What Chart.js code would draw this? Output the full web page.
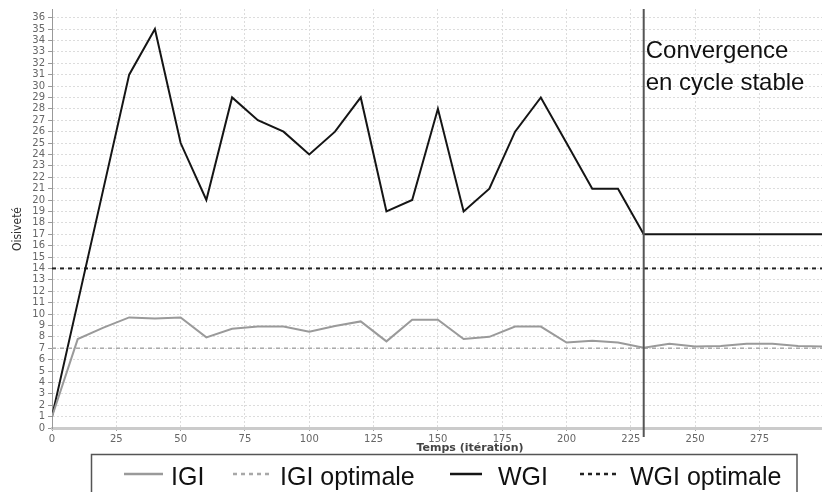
<!DOCTYPE html>
<html lang="fr">
<head>
<meta charset="utf-8">
<title>Oisiveté</title>
<script src="https://cdn.jsdelivr.net/npm/chart.js@4.4.1/dist/chart.umd.min.js"></script>
<style>
  html,body{margin:0;padding:0;background:#fff;}
</style>
</head>
<body>
<canvas id="chart" width="822" height="492"></canvas>
<script>
// Itérations (une mesure toutes les 10)
const iterations = [0,10,20,30,40,50,60,70,80,90,100,110,120,130,140,150,160,170,180,190,200,210,220,230,240,250,260,270,280,290,300];
const igi = [1,7.8,8.8,9.7,9.6,9.7,7.95,8.7,8.9,8.9,8.45,8.95,9.35,7.6,9.5,9.5,7.8,8.0,8.9,8.9,7.5,7.65,7.5,7.05,7.4,7.15,7.2,7.4,7.4,7.2,7.15];
const wgi = [1,11,21,31,35,25,20,29,27,26,24,26,29,19,20,28,19,21,26,29,25,21,21,17,17,17,17,17,17,17,17];

// Valeurs optimales (droites horizontales)
const optimalX    = [0, 300];
const igiOptimale = [7, 7];
const wgiOptimale = [14, 14];

const convergenceIter = 230;
const convergenceText = ['Convergence', 'en cycle stable'];
const xTitle = 'Temps (itération)';
const yTitle = 'Oisiveté';

const toPoints = (xs, ys) => xs.map((x,i)=>({x, y: ys[i]}));

const datasets = [
  { label:'IGI', data: toPoints(iterations, igi), borderColor:'#9a9a9a', borderWidth:2, borderDash:[] },
  { label:'IGI optimale', data: toPoints(optimalX, igiOptimale), borderColor:'#a8a8a8', borderWidth:1.5, borderDash:[4,4] },
  { label:'WGI', data: toPoints(iterations, wgi), borderColor:'#151515', borderWidth:2, borderDash:[] },
  { label:'WGI optimale', data: toPoints(optimalX, wgiOptimale), borderColor:'#222', borderWidth:2, borderDash:[4,4] }
].map(d=>({...d, pointRadius:0, tension:0, fill:false, backgroundColor:d.borderColor}));

// Ligne de convergence, textes et légende encadrée
const decor = {
  id:'decor',
  afterDraw(chart){
    const {ctx, chartArea:a, scales:{x}} = chart;
    const cx = x.getPixelForValue(convergenceIter);

    ctx.save();
    ctx.strokeStyle='#555';
    ctx.lineWidth=2;
    ctx.beginPath();
    ctx.moveTo(cx, a.top);
    ctx.lineTo(cx, a.bottom+9);
    ctx.stroke();

    ctx.fillStyle='#111';
    ctx.font='24px "Liberation Sans", Arial, sans-serif';
    ctx.textAlign='left';
    ctx.textBaseline='alphabetic';
    ctx.fillText(convergenceText[0], cx+2, 58);
    ctx.fillText(convergenceText[1], cx+2, 90);

    // titres des axes
    ctx.fillStyle='#444';
    ctx.font='bold 11px "DejaVu Sans", sans-serif';
    ctx.textAlign='center';
    ctx.textBaseline='middle';
    ctx.fillText(xTitle, 470, 448);

    ctx.save();
    ctx.translate(18, 229);
    ctx.rotate(-Math.PI/2);
    ctx.fillStyle='#333';
    ctx.font='12px "DejaVu Sans Condensed", "Liberation Sans Narrow", sans-serif';
    ctx.fillText(yTitle, 0, 0);
    ctx.restore();

    // légende
    ctx.strokeStyle='#555';
    ctx.lineWidth=1.5;
    ctx.strokeRect(91.5, 454.5, 705.5, 60);

    const slots = [
      {x1:124, x2:163, tx:171},
      {x1:233, x2:270, tx:280},
      {x1:450, x2:482, tx:498},
      {x1:580, x2:618, tx:630}
    ];
    ctx.font='25px "Liberation Sans", Arial, sans-serif';
    ctx.textAlign='left';
    ctx.textBaseline='alphabetic';
    chart.data.datasets.forEach((d,i)=>{
      const s = slots[i];
      ctx.strokeStyle = d.borderColor;
      ctx.lineWidth = 2.5;
      ctx.setLineDash(d.borderDash.length ? [4,4] : []);
      ctx.beginPath();
      ctx.moveTo(s.x1, 474);
      ctx.lineTo(s.x2, 474);
      ctx.stroke();
      ctx.setLineDash([]);
      ctx.fillStyle='#111';
      ctx.fillText(d.label, s.tx, 485);
    });
    ctx.restore();
  }
};

const tickFont = {family:'"DejaVu Sans", sans-serif', size:10};

new Chart(document.getElementById('chart').getContext('2d'), {
  type:'line',
  data:{ datasets },
  options:{
    responsive:false,
    animation:false,
    devicePixelRatio:1,
    layout:{ padding:{top:7, right:0, left:0, bottom:0} },
    plugins:{ legend:{display:false}, tooltip:{enabled:false} },
    scales:{
      x:{
        type:'linear', min:0, max:299.3,
        ticks:{ stepSize:25, includeBounds:false, font:tickFont, color:'#666', padding:2, maxRotation:0, autoSkip:false },
        afterBuildTicks: s=>{ s.ticks = s.ticks.filter(t=> t.value%25===0); },
        afterFit: s=>{ s.height = 64; },
        grid:{ color:'#dcdcdc', lineWidth:1, tickLength:3, tickColor:'#999', tickBorderDash:[] },
        border:{ color:'#cbcbcb', width:3, dash:[2,2] }
      },
      y:{
        min:0, max:36.76,
        ticks:{ stepSize:1, includeBounds:false, font:tickFont, color:'#666', padding:3, autoSkip:false },
        afterBuildTicks: s=>{ s.ticks = s.ticks.filter(t=> Number.isInteger(t.value)); },
        afterFit: s=>{ s.width = 52; },
        grid:{ color:'#dcdcdc', lineWidth:1, tickLength:4, tickColor:'#999', tickBorderDash:[] },
        border:{ color:'#999', width:1, dash:[2,2] }
      }
    }
  },
  plugins:[decor]
});
</script>
</body>
</html>
